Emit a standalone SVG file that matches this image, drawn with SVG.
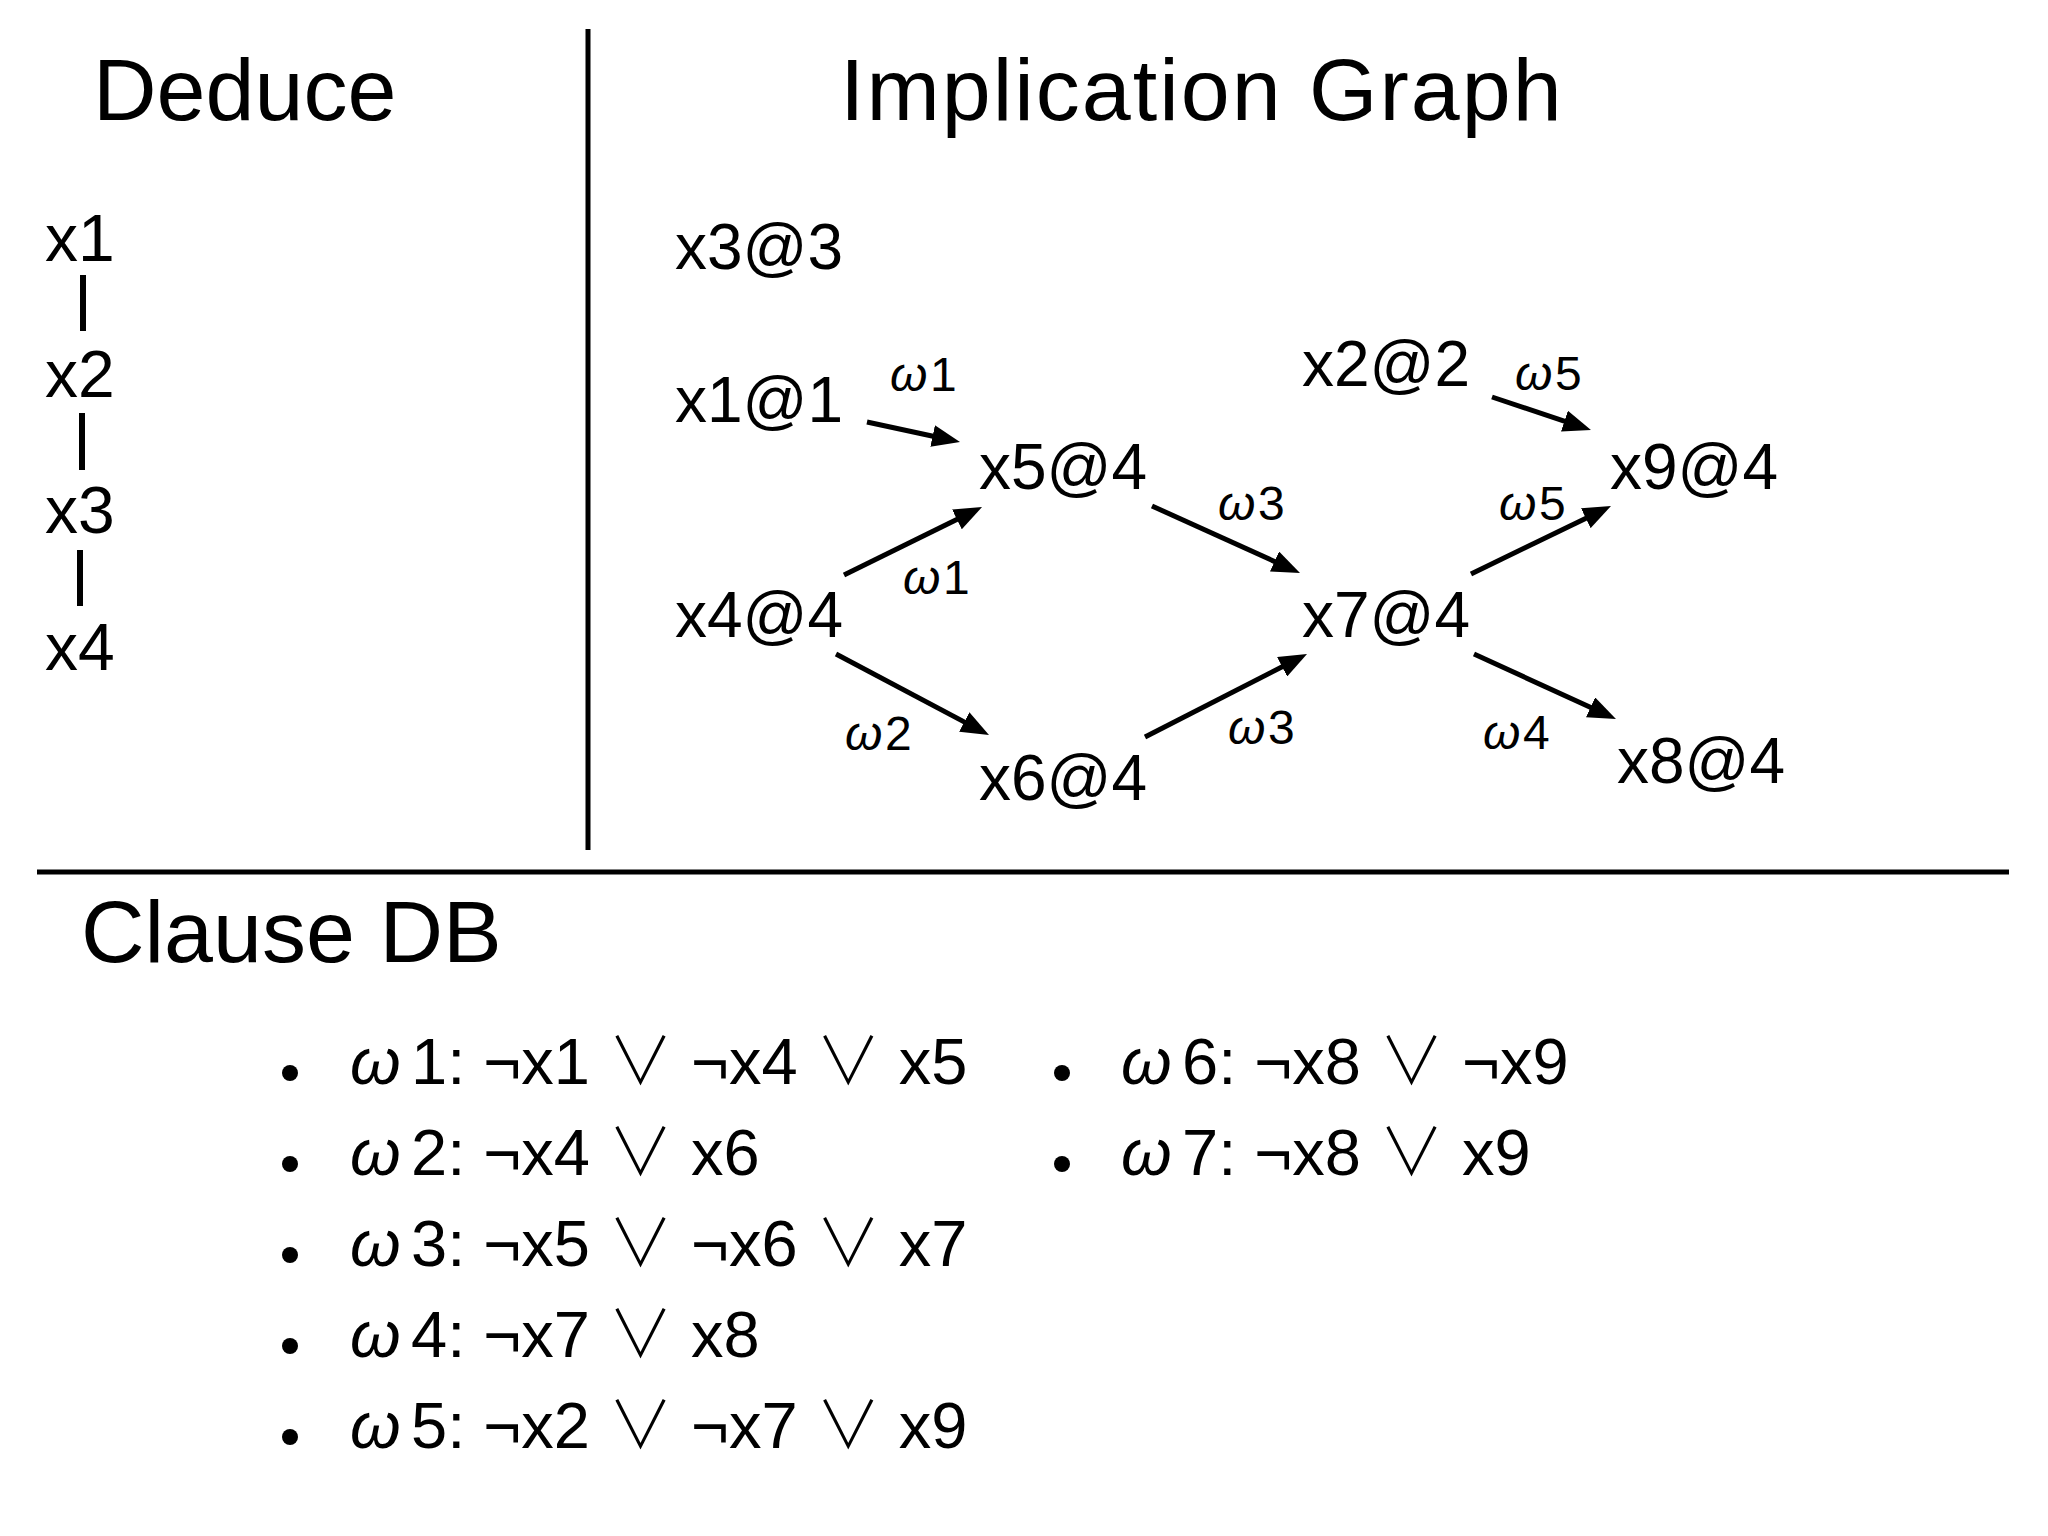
<svg xmlns="http://www.w3.org/2000/svg" width="2048" height="1536" viewBox="0 0 2048 1536">
<style>
text{font-family:"Liberation Sans","Noto Sans CJK JP",sans-serif;fill:#000}
.title{font-size:88px}
.node{font-size:64px}
.ded{font-size:66px}
.lbl{font-size:48px}
.cl{font-size:65px}
.w{font-style:italic}
.or{font-family:"Noto Sans CJK JP","DejaVu Sans",sans-serif;font-weight:300}
.div{stroke:#000;stroke-width:5}
.bar{stroke:#000;stroke-width:6}
.edge{stroke:#000;stroke-width:5;fill:none;marker-end:url(#ah)}
</style>
<defs>
<marker id="ah" viewBox="0 0 28 22" refX="10" refY="11" markerWidth="28" markerHeight="22" markerUnits="userSpaceOnUse" orient="auto">
<path d="M0,0 L28,11 L0,22 z" fill="#000"/>
</marker>
</defs>
<rect width="2048" height="1536" fill="#fff"/>

<g id="frame">
<line class="div" x1="588" y1="29" x2="588" y2="850"/>
<line class="div" x1="37" y1="872" x2="2009" y2="872"/>
</g>

<g id="titles">
<text class="title" x="93" y="120">Deduce</text>
<text class="title" x="840" y="120" letter-spacing="2">Implication Graph</text>
<text class="title" x="81" y="962">Clause DB</text>
</g>

<g id="deduce">
<text class="ded" x="45" y="261">x1</text>
<line class="bar" x1="83" y1="275" x2="83" y2="331"/>
<text class="ded" x="45" y="397">x2</text>
<line class="bar" x1="82" y1="413" x2="82" y2="470"/>
<text class="ded" x="45" y="533">x3</text>
<line class="bar" x1="80" y1="550" x2="80" y2="606"/>
<text class="ded" x="45" y="670">x4</text>
</g>

<g id="connectors">
<line class="edge" x1="867" y1="422" x2="942.4" y2="438.2"/>
<line class="edge" x1="844" y1="575" x2="965.9" y2="515"/>
<line class="edge" x1="1152" y1="506" x2="1283.6" y2="565.6"/>
<line class="edge" x1="836" y1="654" x2="973.1" y2="726.6"/>
<line class="edge" x1="1145" y1="737" x2="1291" y2="662.2"/>
<line class="edge" x1="1492" y1="397" x2="1573.9" y2="424.3"/>
<line class="edge" x1="1471" y1="574" x2="1594.8" y2="513.9"/>
<line class="edge" x1="1474" y1="654" x2="1599.6" y2="711.5"/>
</g>

<g id="edge-labels">
<text class="lbl" y="391"><tspan class="w" x="890">ω</tspan><tspan x="930">1</tspan></text>
<text class="lbl" y="594"><tspan class="w" x="903">ω</tspan><tspan x="943">1</tspan></text>
<text class="lbl" y="520"><tspan class="w" x="1218">ω</tspan><tspan x="1258">3</tspan></text>
<text class="lbl" y="750"><tspan class="w" x="845">ω</tspan><tspan x="885">2</tspan></text>
<text class="lbl" y="744"><tspan class="w" x="1228">ω</tspan><tspan x="1268">3</tspan></text>
<text class="lbl" y="390"><tspan class="w" x="1515">ω</tspan><tspan x="1555">5</tspan></text>
<text class="lbl" y="520"><tspan class="w" x="1499">ω</tspan><tspan x="1539">5</tspan></text>
<text class="lbl" y="749"><tspan class="w" x="1483">ω</tspan><tspan x="1523">4</tspan></text>
</g>

<g id="n-x3"><text class="node" x="675" y="269">x3@3</text></g>
<g id="n-x1"><text class="node" x="675" y="422">x1@1</text></g>
<g id="n-x5"><text class="node" x="979" y="489">x5@4</text></g>
<g id="n-x4"><text class="node" x="675" y="637">x4@4</text></g>
<g id="n-x6"><text class="node" x="979" y="800">x6@4</text></g>
<g id="n-x2"><text class="node" x="1302" y="386">x2@2</text></g>
<g id="n-x7"><text class="node" x="1302" y="637">x7@4</text></g>
<g id="n-x9"><text class="node" x="1610" y="489">x9@4</text></g>
<g id="n-x8"><text class="node" x="1617" y="783">x8@4</text></g>

<g id="clauses">
<circle cx="290" cy="1073" r="8"/>
<text class="cl" y="1084"><tspan class="w" x="350">ω</tspan><tspan x="411">1: ¬x1 <tspan class="or">∨</tspan> ¬x4 <tspan class="or">∨</tspan> x5</tspan></text>
<circle cx="290" cy="1164" r="8"/>
<text class="cl" y="1175"><tspan class="w" x="350">ω</tspan><tspan x="411">2: ¬x4 <tspan class="or">∨</tspan> x6</tspan></text>
<circle cx="290" cy="1255" r="8"/>
<text class="cl" y="1266"><tspan class="w" x="350">ω</tspan><tspan x="411">3: ¬x5 <tspan class="or">∨</tspan> ¬x6 <tspan class="or">∨</tspan> x7</tspan></text>
<circle cx="290" cy="1346" r="8"/>
<text class="cl" y="1357"><tspan class="w" x="350">ω</tspan><tspan x="411">4: ¬x7 <tspan class="or">∨</tspan> x8</tspan></text>
<circle cx="290" cy="1437" r="8"/>
<text class="cl" y="1448"><tspan class="w" x="350">ω</tspan><tspan x="411">5: ¬x2 <tspan class="or">∨</tspan> ¬x7 <tspan class="or">∨</tspan> x9</tspan></text>
<circle cx="1062" cy="1073" r="8"/>
<text class="cl" y="1084"><tspan class="w" x="1121">ω</tspan><tspan x="1182">6: ¬x8 <tspan class="or">∨</tspan> ¬x9</tspan></text>
<circle cx="1062" cy="1164" r="8"/>
<text class="cl" y="1175"><tspan class="w" x="1121">ω</tspan><tspan x="1182">7: ¬x8 <tspan class="or">∨</tspan> x9</tspan></text>
</g>
</svg>
